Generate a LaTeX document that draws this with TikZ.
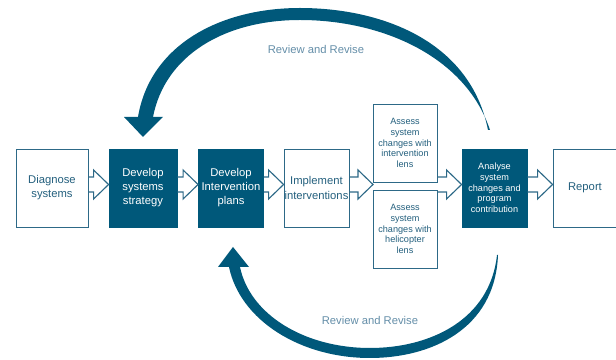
\documentclass[tikz,border=0pt]{standalone}
\usepackage{fontspec}
\setmainfont{Liberation Sans}
\usetikzlibrary{calc}

\definecolor{loopblue}{RGB}{0,88,122}
\definecolor{boxtext}{RGB}{35,95,125}
\definecolor{boxline}{RGB}{45,105,135}
\definecolor{revisetext}{RGB}{100,142,168}

\newcommand{\blockarrow}[2]{%
  \draw [boxline,line width=0.8pt,line join=miter]
    ($(#1)+(0,-11)$) -- ($(#2)+(-15,-11)$) -- ($(#2)+(-15,-18)$) -- ($(#2)+(0,-3.5)$)
    -- ($(#2)+(-15,11)$) -- ($(#2)+(-15,4)$) -- ($(#1)+(0,4)$);}

\begin{document}
\begin{tikzpicture}[x=0.25mm,y=-0.25mm,
  plainbox/.style={rectangle,draw=boxline,line width=0.6pt,text=boxtext,align=center,
    inner sep=0pt,minimum width=16.25mm,minimum height=19.5mm,font=\fontsize{8}{10}\selectfont},
  darkbox/.style={plainbox,draw=loopblue,fill=loopblue,text=white},
  smalltext/.style={font=\fontsize{6.5}{7.6}\selectfont},
  revise/.style={text=revisetext,font=\fontsize{8}{10}\selectfont}]
\useasboundingbox (0,0) rectangle (616,360);
\fill [loopblue] (488,130) .. controls (470,40) and (380,8) .. (300,8)
    .. controls (220,8) and (150,45) .. (138,117) -- (124,117) -- (143,137) -- (163,117) -- (153,117)
    .. controls (165,55) and (225,20) .. (300,20) .. controls (380,20) and (465,55) .. (490,130) -- cycle;
\fill [loopblue] (498,255) .. controls (495,330) and (430,358) .. (370,358)
    .. controls (300,358) and (240,320) .. (229,267) -- (218,267) -- (233,247) -- (249,267) -- (240,267)
    .. controls (250,315) and (305,348) .. (370,348) .. controls (430,348) and (490,320) .. (497,255) -- cycle;
\node (review1) at (316,49)  [revise] {Review and Revise};
\node (review2) at (370,320) [revise] {Review and Revise};
\node (diag)    at  (52,188) [plainbox,minimum width=18mm] {Diagnose\\systems};
\node (strat)   at (143,188) [darkbox,minimum width=17mm] {Develop\\systems\\strategy};
\node (plans)   at (231,188) [darkbox] {Develop\\Intervention\\plans};
\node (impl)    at (316.5,188) [plainbox] {Implement\\interventions};
\node (assessA) at (405,143) [plainbox,minimum width=16mm,smalltext] {Assess\\system\\changes with\\intervention\\lens};
\node (assessB) at (405,229) [plainbox,minimum width=16mm,smalltext] {Assess\\system\\changes with\\helicopter\\lens};
\node (analyse) at (494.5,188) [darkbox,smalltext] {Analyse\\system\\changes and\\program\\contribution};
\node (report)  at (585,188) [plainbox,minimum width=16mm] {Report};
\coordinate (gapL) at (373,188);
\coordinate (gapR) at (437,188);
\blockarrow{diag.east}{strat.west}
\blockarrow{strat.east}{plans.west}
\blockarrow{plans.east}{impl.west}
\blockarrow{impl.east}{gapL}
\blockarrow{gapR}{analyse.west}
\blockarrow{analyse.east}{report.west}
\end{tikzpicture}
\end{document}
